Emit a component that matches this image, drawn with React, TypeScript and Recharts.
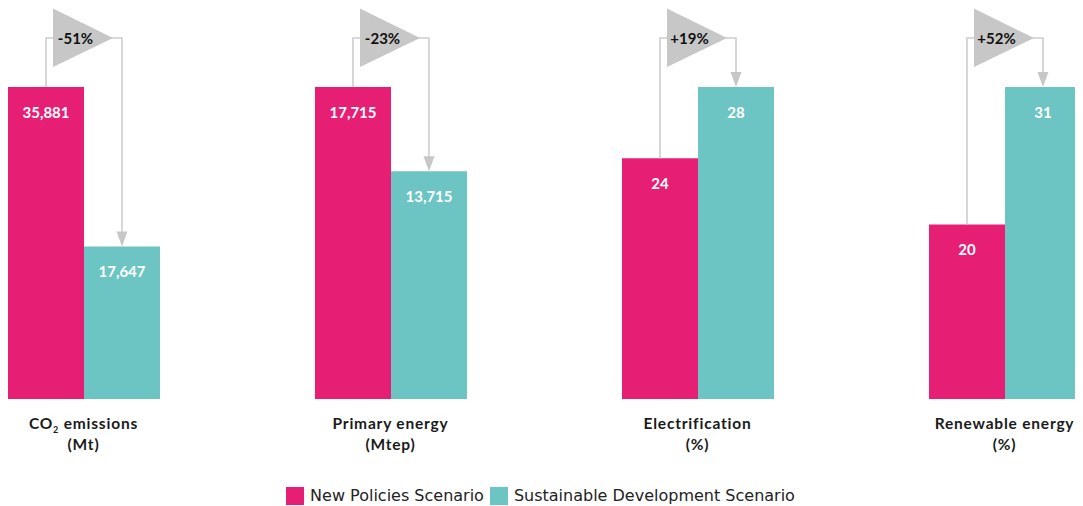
import { BarChart, Bar, XAxis, YAxis, Legend, LabelList } from 'recharts'

// categories (two lines each)
const categoryTitles = ['CO2 emissions', 'Primary energy', 'Electrification', 'Renewable energy']
const categoryUnits = ['(Mt)', '(Mtep)', '(%)', '(%)']

// values printed on the bars
const npsValues = [35881, 17715, 24, 20]
const sdsValues = [17647, 13715, 28, 31]

// bar heights as drawn (each group scaled to its taller bar = 100)
const npsHeights = [100, 100, 77.2, 55.9]
const sdsHeights = [48.9, 73.0, 100, 100]

const changes = ['-51%', '-23%', '+19%', '+52%']

const PINK = '#e61f74'
const TEAL = '#6cc5c2'
const LINE = '#cdcdcd'
const ARROW = '#c6c7c6'

const data = categoryTitles.map((title, i) => ({
  title,
  unit: categoryUnits[i],
  nps: npsHeights[i],
  sds: sdsHeights[i],
  npsLabel: npsValues[i].toLocaleString('en-US'),
  sdsLabel: sdsValues[i].toLocaleString('en-US'),
  change: changes[i],
}))

const labelFont = { fontFamily: 'Lato', fontWeight: 700 }

function CategoryTick(props: any) {
  const { x, y, index } = props
  const d = data[index]
  const isCO2 = d.title.startsWith('CO2')
  return (
    <g>
      <text x={x} y={y + 22} textAnchor="middle" fontSize={15.5} fill="#1a1a1a" letterSpacing={0.8} style={labelFont}>
        {isCO2 ? (
          <>
            <tspan>CO</tspan>
            <tspan fontSize={9} dy={4}>2</tspan>
            <tspan dy={-4}>{d.title.slice(3)}</tspan>
          </>
        ) : d.title}
      </text>
      <text x={x} y={y + 43} textAnchor="middle" fontSize={15.5} fill="#1a1a1a" letterSpacing={0.8} style={labelFont}>
        {d.unit}
      </text>
    </g>
  )
}

// connector drawn from the teal bar's geometry: pink top -> up, across, down to teal top
function Connector(props: any) {
  const { x, y, width, height, index } = props
  const d = data[index]
  const bottom = y + height
  const pinkTop = bottom - height * (d.nps / d.sds)
  const tealTop = y
  const pinkCx = x - width / 2
  const tealCx = x + width / 2
  const lineY = 30
  return (
    <g>
      <polyline
        points={`${pinkCx},${pinkTop} ${pinkCx},${lineY} ${tealCx},${lineY} ${tealCx},${tealTop - 12}`}
        fill="none"
        stroke={LINE}
        strokeWidth={1.6}
      />
      <polygon points={`${tealCx - 5.5},${tealTop - 15} ${tealCx + 5.5},${tealTop - 15} ${tealCx},${tealTop}`} fill={ARROW} />
      <polygon points={`${pinkCx + 7},${0.5} ${pinkCx + 67},${lineY} ${pinkCx + 7},${59}`} fill={ARROW} />
      <text x={pinkCx + 29.5} y={lineY + 5.5} textAnchor="middle" fontSize={15} fill="#111" style={labelFont}>
        {d.change}
      </text>
    </g>
  )
}

function LegendContent() {
  const items = [
    { name: 'New Policies Scenario', color: PINK },
    { name: 'Sustainable Development Scenario', color: TEAL },
  ]
  return (
    <div style={{ display: 'flex', justifyContent: 'center', alignItems: 'center', fontFamily: 'DejaVu Sans', fontSize: 16, color: '#222' }}>
      {items.map((it) => (
        <div key={it.name} style={{ display: 'flex', alignItems: 'center', marginRight: 6 }}>
          <span style={{ display: 'inline-block', width: 18, height: 18, background: it.color, marginRight: 6 }} />
          <span>{it.name}</span>
        </div>
      ))}
    </div>
  )
}

export default function App() {
  return (
    <div style={{ width: 1075, height: 498, overflow: 'hidden' }}>
      <div style={{ marginLeft: -78.5 }}>
        <BarChart
          width={1228}
          height={498}
          data={data}
          margin={{ top: 79, right: 0, bottom: 77, left: 0 }}
          barGap={0}
          barCategoryGap={0}
        >
          <XAxis dataKey="title" axisLine={false} tickLine={false} tick={<CategoryTick />} interval={0} />
          <YAxis hide domain={[0, 100]} />
          <Legend
            verticalAlign="bottom"
            content={<LegendContent />}
            wrapperStyle={{ bottom: 20, height: 0, left: 0, width: 1228 }}
          />
          <Bar dataKey="nps" name="New Policies Scenario" fill={PINK} barSize={76} isAnimationActive={false}>
            <LabelList dataKey="npsLabel" position="insideTop" offset={20} fill="#fff" fontSize={15} style={labelFont} />
          </Bar>
          <Bar dataKey="sds" name="Sustainable Development Scenario" fill={TEAL} barSize={76} isAnimationActive={false}>
            <LabelList dataKey="sdsLabel" position="insideTop" offset={20} fill="#fff" fontSize={15} style={labelFont} />
            <LabelList dataKey="change" content={<Connector />} />
          </Bar>
        </BarChart>
      </div>
    </div>
  )
}
